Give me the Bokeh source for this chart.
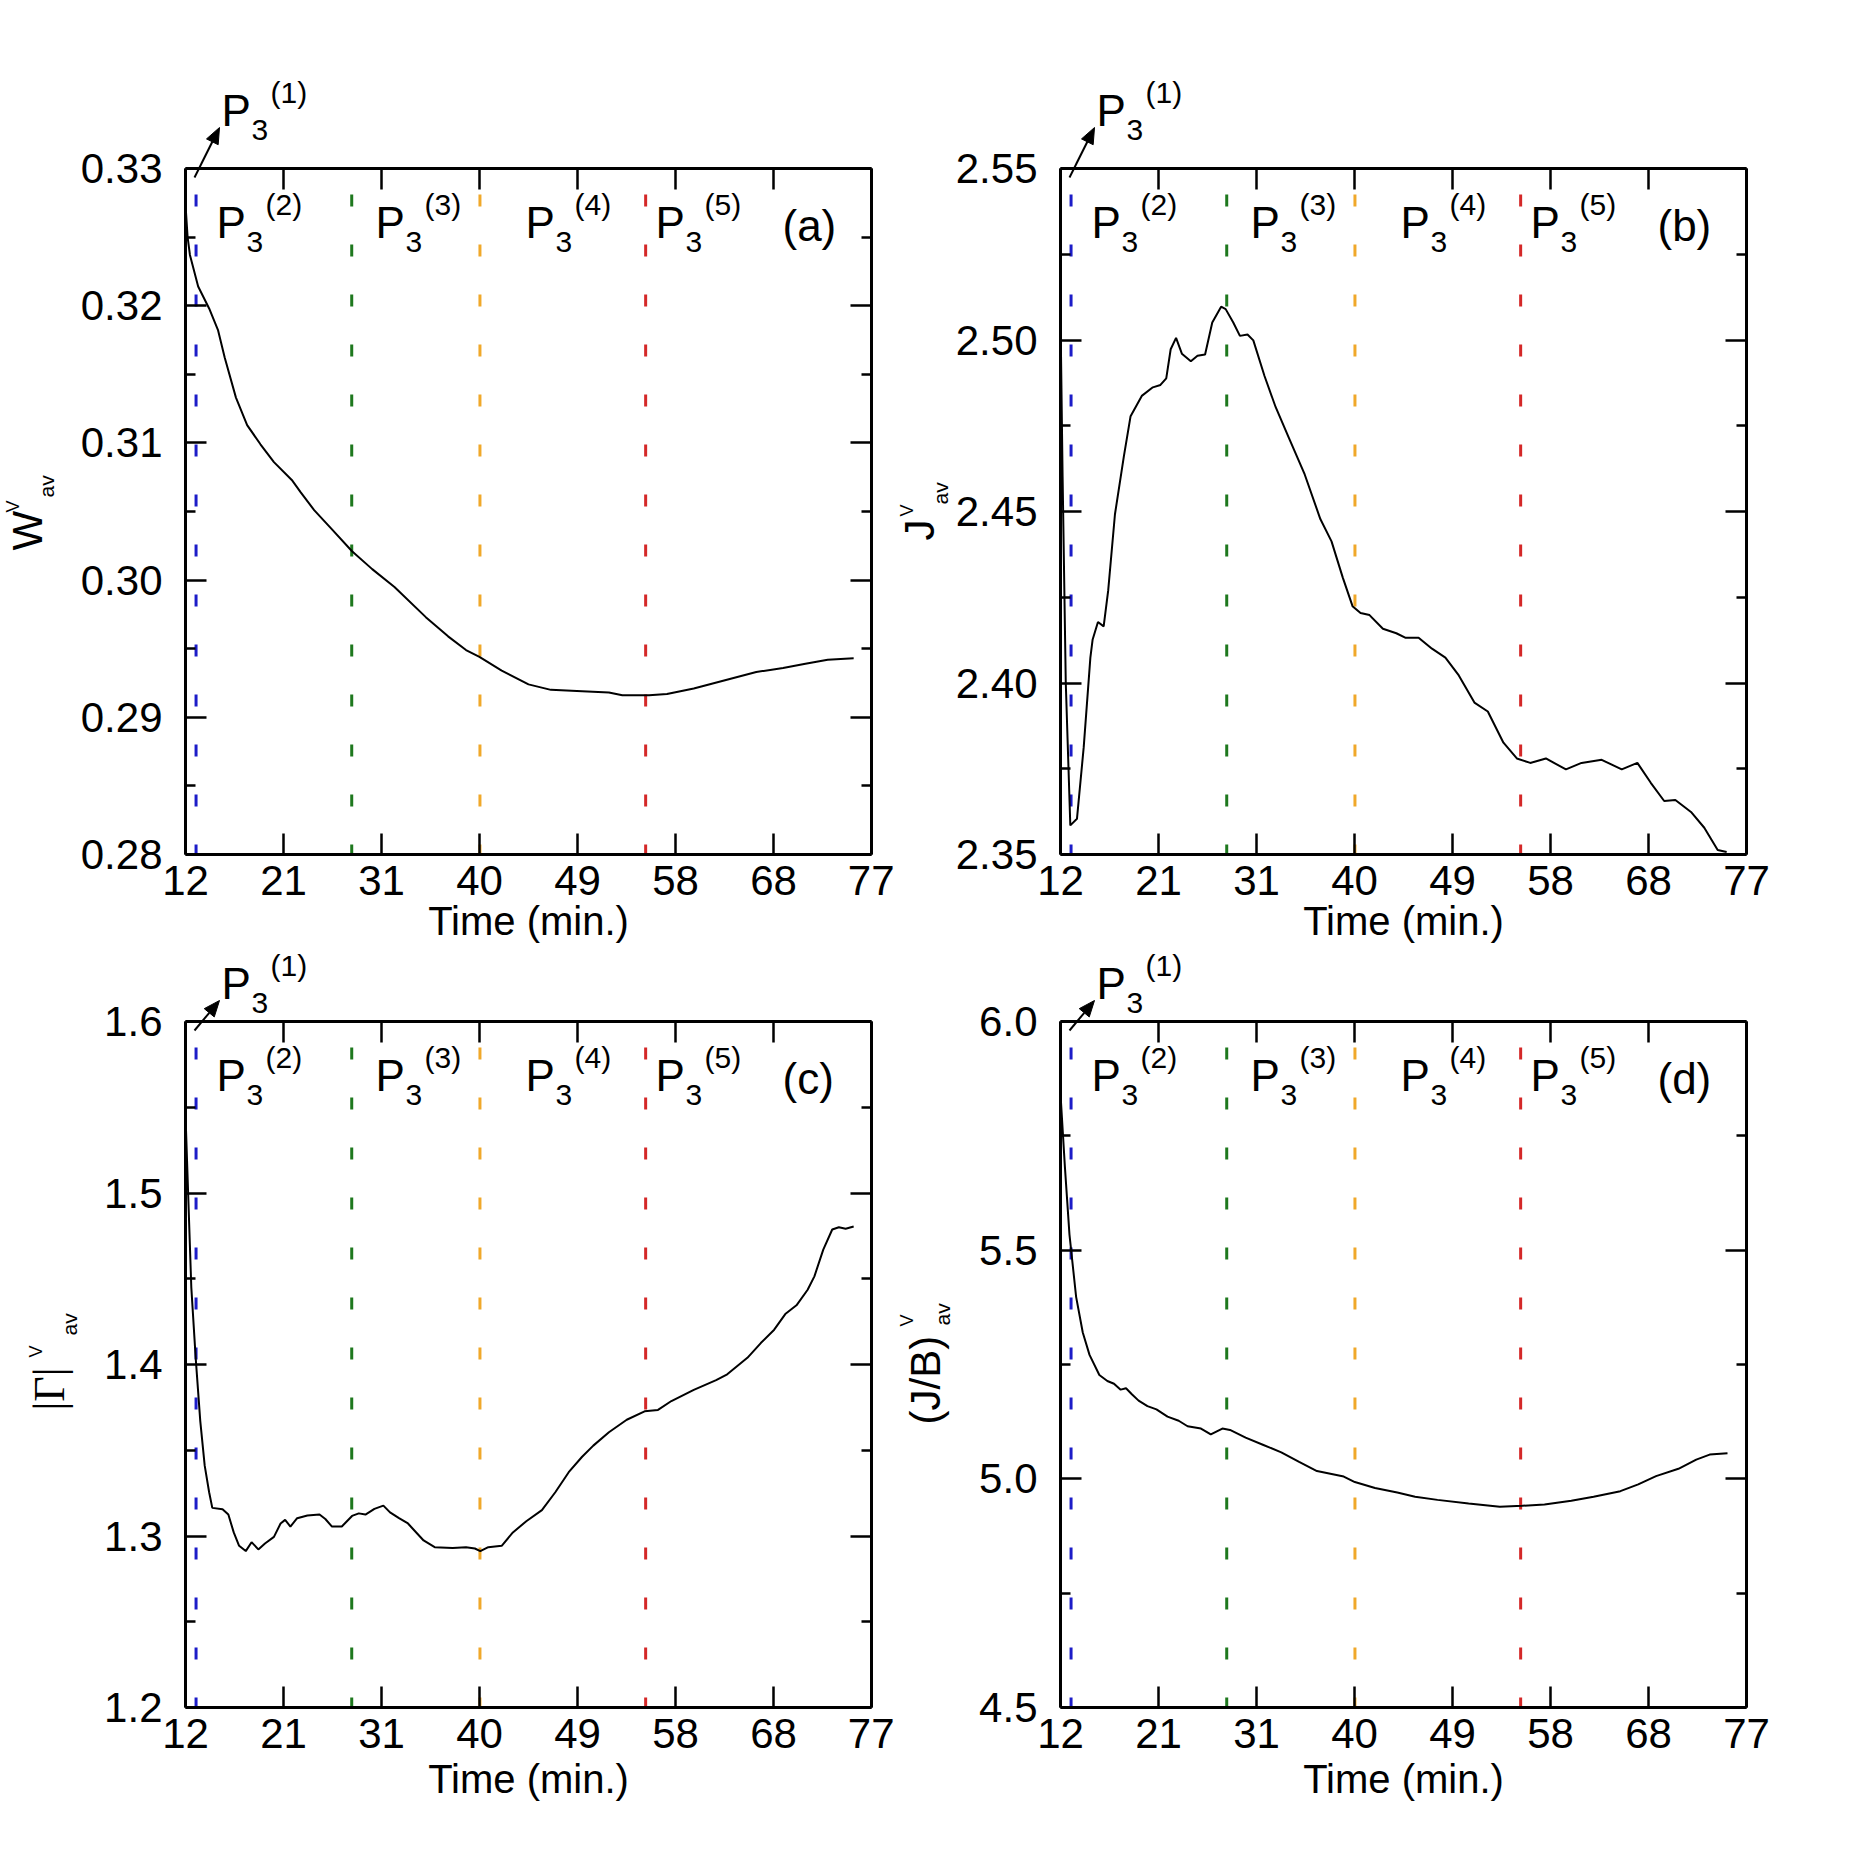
import math
import numpy as np
from bokeh.plotting import figure
from bokeh.models import (Range1d, LinearAxis, FixedTicker, PrintfTickFormatter,
                          CustomJSTickFormatter)
from bokeh.core.properties import value
from bokeh.layouts import row, column
from bokeh.embed import file_html
from bokeh.resources import INLINE

FONT = "Liberation Sans"
SERIF = "Liberation Serif"
FRAME = 686
BASE_K = 0.38   # baseline correction (fraction of font size)

# ---------------- data ----------------
x_ticks = [float(v) for v in np.linspace(12, 77, 8)]
x_tick_labels = ["12", "21", "31", "40", "49", "58", "68", "77"]

phase_times = [13.0, 27.75, 39.9, 55.6]
phase_colors = ["#1c1cc8", "#1e781e", "#f0a82a", "#d42828"]
phase_sups = ["(2)", "(3)", "(4)", "(5)"]

# (a) W^V_av
t_a = [12.03, 12.2, 12.42, 13.2, 14.24, 15.09, 15.72, 16.78, 17.84, 19.1, 20.38, 22.07,
       22.92, 24.19, 25.88, 27.78, 29.69, 31.8, 34.77, 36.88, 38.58, 39.85, 41.96, 44.5,
       46.62, 49.58, 52.12, 53.39, 55.93, 57.62, 60.16, 63.12, 66.08, 68.62, 70.74,
       72.85, 75.31]
w_av = [0.3270, 0.3250, 0.3237, 0.3214, 0.3198, 0.3182, 0.3162, 0.3133, 0.3113, 0.3099,
        0.3086, 0.3073, 0.3064, 0.3051, 0.3037, 0.3021, 0.3008, 0.2995, 0.2973, 0.2959,
        0.2949, 0.2944, 0.2934, 0.2924, 0.2920, 0.2919, 0.2918, 0.2916, 0.2916, 0.2917,
        0.2921, 0.2927, 0.2933, 0.2936, 0.2939, 0.2942, 0.2943]

# (b) J^V_av
t_b = [12.03, 12.2, 12.5, 12.93, 13.56, 14.2, 14.83, 15.04, 15.55, 16.09, 16.52, 17.16,
       18.0, 18.64, 19.7, 20.75, 21.47, 22.02, 22.44, 22.95, 23.5, 24.35, 24.98, 25.7,
       26.38, 27.22, 27.65, 28.37, 29.0, 29.72, 30.27, 31.33, 32.39, 33.66, 35.14, 36.62,
       37.68, 38.74, 39.67, 40.43, 41.28, 42.55, 43.82, 44.66, 45.93, 47.2, 48.47, 49.74,
       51.22, 52.49, 53.97, 55.24, 56.51, 57.99, 59.89, 61.37, 63.28, 65.18, 66.66, 67.93,
       69.2, 70.26, 71.74, 73.0, 74.27, 75.12]
j_av = [2.500, 2.460, 2.400, 2.3585, 2.3604, 2.3813, 2.4074, 2.4126, 2.4178, 2.4165,
        2.4270, 2.4492, 2.4660, 2.4778, 2.4837, 2.4862, 2.4869, 2.4888, 2.4973, 2.5006,
        2.4960, 2.4938, 2.4954, 2.4958, 2.5051, 2.5097, 2.5090, 2.5051, 2.5012, 2.5016,
        2.4999, 2.4895, 2.4804, 2.4713, 2.4608, 2.4478, 2.4413, 2.4308, 2.4224, 2.4204,
        2.4198, 2.4158, 2.4145, 2.4132, 2.4132, 2.4100, 2.4074, 2.4022, 2.3943, 2.3917,
        2.3826, 2.3780, 2.3767, 2.3780, 2.3748, 2.3767, 2.3776, 2.3748, 2.3767, 2.3709,
        2.3656, 2.3659, 2.3624, 2.3578, 2.3513, 2.3507]

# (c) |Gamma|^V_av
t_c = [12.03, 12.55, 12.97, 13.4, 13.82, 14.24, 14.54, 15.51, 16.06, 16.57, 17.08, 17.71,
       18.26, 18.9, 19.53, 20.38, 21.01, 21.44, 21.94, 22.58, 23.55, 24.7, 25.25, 25.88,
       26.81, 27.78, 28.42, 29.05, 29.9, 30.75, 31.38, 32.23, 33.08, 34.56, 35.61, 37.31,
       38.58, 39.42, 39.93, 40.69, 41.96, 43.02, 44.29, 45.77, 47.04, 48.31, 49.58, 50.64,
       52.12, 53.81, 55.5, 56.77, 58.04, 60.16, 62.28, 63.33, 65.24, 66.51, 67.78, 68.83,
       69.89, 70.95, 71.59, 72.43, 73.28, 73.91, 74.55, 75.31]
gamma_av = [1.540, 1.445, 1.4034, 1.367, 1.341, 1.3255, 1.3164, 1.3156, 1.3125, 1.3021,
            1.2943, 1.2912, 1.2964, 1.2922, 1.2956, 1.2995, 1.3073, 1.3094, 1.3055, 1.3104,
            1.3120, 1.3125, 1.3099, 1.3055, 1.3055, 1.3117, 1.3132, 1.3125, 1.3158, 1.3177,
            1.3138, 1.3104, 1.3073, 1.2974, 1.2935, 1.2930, 1.2935, 1.2927, 1.2912, 1.2935,
            1.2943, 1.3021, 1.3086, 1.3151, 1.3255, 1.3372, 1.3462, 1.3527, 1.3605, 1.3678,
            1.3727, 1.3735, 1.3787, 1.3852, 1.3909, 1.3943, 1.4039, 1.4125, 1.4203, 1.4294,
            1.4345, 1.4436, 1.4514, 1.4670, 1.4787, 1.4800, 1.4792, 1.4805]

# (d) (J/B)^V_av
t_d = [12.03, 12.42, 12.85, 13.48, 14.11, 14.75, 15.68, 16.44, 17.07, 17.7, 18.21, 18.76,
       19.4, 20.24, 21.09, 22.14, 23.2, 24.04, 25.31, 26.24, 27.34, 28.06, 29.54, 31.23,
       32.92, 34.61, 36.3, 38.84, 39.89, 41.8, 43.91, 45.6, 47.72, 50.67, 53.63, 55.75,
       57.86, 60.4, 62.51, 65.05, 66.74, 68.43, 70.55, 72.24, 73.51, 75.2]
jb_av = [5.830, 5.681, 5.534, 5.398, 5.320, 5.271, 5.227, 5.214, 5.208, 5.195, 5.198, 5.185,
         5.171, 5.159, 5.152, 5.136, 5.127, 5.115, 5.110, 5.097, 5.110, 5.107, 5.090, 5.074,
         5.058, 5.037, 5.017, 5.005, 4.993, 4.980, 4.970, 4.961, 4.954, 4.946, 4.939, 4.941,
         4.944, 4.952, 4.961, 4.973, 4.988, 5.006, 5.022, 5.042, 5.053, 5.056]

yt_a = [0.28, 0.29, 0.30, 0.31, 0.32, 0.33]
ym_a = [0.285, 0.295, 0.305, 0.315, 0.325]
yt_b = [2.35, 2.40, 2.45, 2.50, 2.55]
ym_b = [2.375, 2.425, 2.475, 2.525]
yt_c = [1.2, 1.3, 1.4, 1.5, 1.6]
ym_c = [1.25, 1.35, 1.45, 1.55]
yt_d = [4.5, 5.0, 5.5, 6.0]
ym_d = [4.75, 5.25, 5.75]


def style_axis(ax, show_labels, standoff=0):
    ax.axis_line_width = 3
    ax.axis_line_color = "black"
    ax.major_tick_in = 21
    ax.major_tick_out = 0
    ax.minor_tick_in = 10
    ax.minor_tick_out = 0
    ax.major_tick_line_width = 2.5
    ax.minor_tick_line_width = 2.5
    ax.major_tick_line_color = "black"
    ax.minor_tick_line_color = "black"
    ax.major_label_text_font = FONT
    ax.major_label_text_color = "black"
    if show_labels:
        ax.major_label_text_font_size = "42px"
        ax.major_label_standoff = standoff
    else:
        ax.major_label_text_font_size = "1px"
        ax.major_label_standoff = 0
        ax.formatter = CustomJSTickFormatter(code="return '';")


def make_panel(t, v, yr, ymaj, ymin_t, fmt, tag, ylab, left, right, top, bottom,
               p1_up, time_below):
    y0, y1 = yr
    p = figure(frame_width=FRAME, frame_height=FRAME,
               x_range=Range1d(12, 77), y_range=Range1d(y0, y1),
               x_axis_type=None, y_axis_type=None,
               output_backend="svg", toolbar_location=None,
               min_border_left=left, min_border_right=right,
               min_border_top=top, min_border_bottom=bottom)
    p.outline_line_color = None
    p.background_fill_color = "white"
    p.border_fill_color = "white"

    xlab_fmt = CustomJSTickFormatter(
        args=dict(xtv=x_ticks, xtl=x_tick_labels),
        code="const i = xtv.findIndex((q) => Math.abs(q - tick) < 1e-6); return i >= 0 ? xtl[i] : '';")

    bx = LinearAxis(ticker=FixedTicker(ticks=x_ticks, minor_ticks=[]))
    style_axis(bx, True, 11)
    bx.formatter = xlab_fmt
    p.add_layout(bx, "below")
    tx = LinearAxis(ticker=FixedTicker(ticks=x_ticks, minor_ticks=[]))
    style_axis(tx, False)
    p.add_layout(tx, "above")
    ly = LinearAxis(ticker=FixedTicker(ticks=ymaj, minor_ticks=ymin_t),
                    formatter=PrintfTickFormatter(format=fmt))
    style_axis(ly, True, 23)
    p.add_layout(ly, "left")
    ry = LinearAxis(ticker=FixedTicker(ticks=ymaj, minor_ticks=ymin_t))
    style_axis(ry, False)
    p.add_layout(ry, "right")

    sx = 65.0 / FRAME
    sy = (y1 - y0) / FRAME

    def X(dx):
        return 12 + dx * sx

    def Y(dy_below_top):
        return y1 - dy_below_top * sy

    # phase boundaries
    for xv, c in zip(phase_times, phase_colors):
        p.segment(x0=[xv], y0=[y1], x1=[xv], y1=[y0], line_color=c, line_width=3,
                  line_dash="12 38", line_dash_offset=24)

    p.line(t, v, line_color="black", line_width=2)

    def lab(dx, dy, text, size, font=FONT, align="left", angle=0.0):
        if angle == 0.0:
            dy = dy - BASE_K * size
        else:
            dx = dx - BASE_K * size
        p.text(x=[X(dx)], y=[Y(dy)], text=[text], text_font=value(font),
               text_font_size=value(f"{size}px"), text_color="black",
               text_align=align, text_baseline="alphabetic", angle=angle,
               level="annotation")

    def p3(xl, bl, sup):
        lab(xl, bl, "P", 44)
        lab(xl + 30, bl + 14, "3", 30)
        lab(xl + 49, bl - 24, sup, 30)

    for xl, sup in zip([31, 190, 340, 470], phase_sups):
        p3(xl, 71, sup)
    lab(597, 74, tag, 44)

    # P3(1) above the frame with arrow
    p3(36, -p1_up, "(1)")
    sx0, sy0 = 9.0, 9.0
    tx0, ty0 = 34.0, -float(p1_up)
    L = math.hypot(tx0 - sx0, ty0 - sy0)
    ux, uy = (tx0 - sx0) / L, (ty0 - sy0) / L
    nx, ny = -uy, ux
    hl, hw = 16.0, 6.5
    bxp, byp = tx0 - hl * ux, ty0 - hl * uy
    p.segment(x0=[X(sx0)], y0=[Y(sy0)], x1=[X(bxp)], y1=[Y(byp)],
              line_color="black", line_width=2, level="annotation")
    p.patch(x=[X(tx0), X(bxp + hw * nx), X(bxp - hw * nx)],
            y=[Y(ty0), Y(byp + hw * ny), Y(byp - hw * ny)],
            fill_color="black", line_color="black", line_width=1, level="annotation")

    # rotated y label parts
    for text, size, font, dx, dy in ylab:
        lab(dx, dy, text, size, font=font, angle=math.pi / 2)

    # x label
    lab(FRAME / 2, FRAME + time_below, "Time (min.)", 40, align="center")
    return p


fa = make_panel(t_a, w_av, (0.28, 0.33), yt_a, ym_a, "%.2f", "(a)",
                [("W", 42, FONT, -142, 382), ("V", 18, FONT, -166, 344),
                 ("av", 21, FONT, -131, 329)],
                185, 23, 168, 94, 41, 82)
fb = make_panel(t_b, j_av, (2.35, 2.55), yt_b, ym_b, "%.2f", "(b)",
                [("J", 42, FONT, -125, 372), ("V", 18, FONT, -147, 348),
                 ("av", 21, FONT, -112, 336)],
                166, 32, 168, 94, 41, 82)
fc = make_panel(t_c, gamma_av, (1.2, 1.6), yt_c, ym_c, "%.1f", "(c)",
                [("|Γ|", 44, SERIF, -119, 389), ("V", 18, FONT, -143, 336),
                 ("av", 21, FONT, -108, 314)],
                185, 23, 73, 110, 21, 87)
fd = make_panel(t_d, jb_av, (4.5, 6.0), yt_d, ym_d, "%.1f", "(d)",
                [("(J/B)", 42, FONT, -119, 403), ("V", 18, FONT, -147, 305),
                 ("av", 21, FONT, -110, 304)],
                166, 32, 73, 110, 21, 87)

layout = column(row(fa, fb), row(fc, fd))
open("out.html", "w").write(file_html(layout, INLINE))
